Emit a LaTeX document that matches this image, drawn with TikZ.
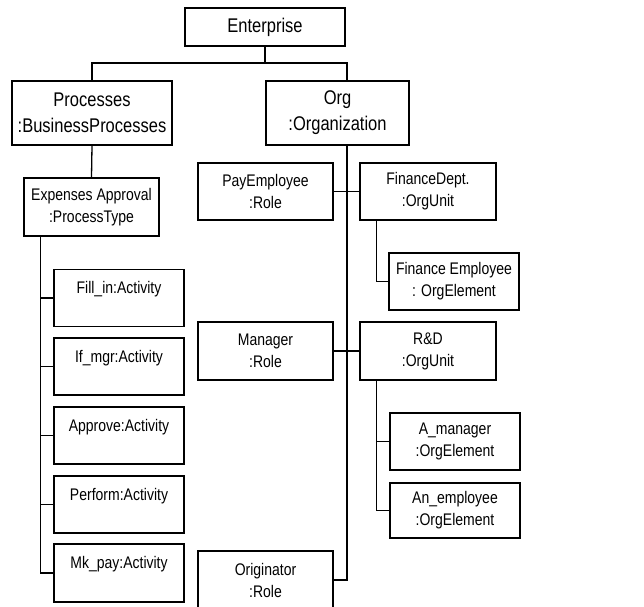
\documentclass[tikz,border=0pt]{standalone}
\usepackage{fontspec}
\usepackage{graphicx}
\setmainfont{Liberation Sans}
% text in the boxes is set slightly taller than wide
\newcommand\tall[1]{\scalebox{1}[1.2]{#1}}
\begin{document}
\begin{tikzpicture}[x=1pt,y=-1pt,
  box/.style={draw, line width=1.3pt, inner sep=0pt, align=center},
  big/.style={box, font=\fontsize{16.5}{26}\selectfont},
  small/.style={box, font=\fontsize{14}{22}\selectfont},
  activity/.style={small, minimum width=130, minimum height=57},
  link/.style={line width=1.3pt}]
\path[use as bounding box, fill=white] (0,0) rectangle (644,606);
\clip (0,0) rectangle (644,606);

% top level
\node[big, minimum width=160, minimum height=38] (ent) at (265,27) {\tall{Enterprise}};
\node[big, minimum width=160, minimum height=64] (proc) at (92,113) {\tall{Processes}\\\tall{:BusinessProcesses}};
\node[big, minimum width=143, minimum height=64] (org) at (337.5,113) {\tall{Org}\\\tall{:Organization}};

% process side
\node[small, minimum width=135, minimum height=58] (exp) at (91.5,207) {\tall{Expenses Approval}\\\tall{:ProcessType}};
\node[activity] (fill) at (119,298) {\tall{Fill\_in:Activity}\\[-8pt]\strut};
\node[activity] (ifm) at (119,366.5) {\tall{If\_mgr:Activity}\\[-8pt]\strut};
\node[activity] (appr) at (119,435.5) {\tall{Approve:Activity}\\[-8pt]\strut};
\node[activity] (perf) at (119,504.5) {\tall{Perform:Activity}\\[-8pt]\strut};
\node[activity, minimum height=58] (mkpay) at (119,573) {\tall{Mk\_pay:Activity}\\[-8pt]\strut};

% organisation side
\node[small, minimum width=135, minimum height=57] (pay) at (265.5,191.5) {\tall{PayEmployee}\\\tall{:Role}};
\node[small, minimum width=136, minimum height=57] (fin) at (428,191.5) {\tall{FinanceDept.}\\\tall{:OrgUnit}};
\node[small, minimum width=130, minimum height=57] (finemp) at (454,281.5) {\tall{Finance Employee}\\\tall{: OrgElement}};
\node[small, minimum width=135, minimum height=58] (mgr) at (265.5,351) {\tall{Manager}\\\tall{:Role}};
\node[small, minimum width=136, minimum height=58] (rd) at (428,351) {\tall{R\&D}\\\tall{:OrgUnit}};
\node[small, minimum width=130, minimum height=57] (aman) at (455,441.5) {\tall{A\_manager}\\\tall{:OrgElement}};
\node[small, minimum width=130, minimum height=55] (anemp) at (455,510.5) {\tall{An\_employee}\\\tall{:OrgElement}};
\node[small, minimum width=135, minimum height=58] (orig) at (265.5,580) {\tall{Originator}\\\tall{:Role}};

% connectors
\coordinate (split) at (347,63);
\draw[link] (ent.south) -- (ent.south |- split);
\draw[link] (proc.north) |- (split) -- (split |- org.north);
\draw[link] (org.south -| split) |- (orig.east);
\draw[link] (pay.east) -- (fin.west);
\draw[link] (mgr.east) -- (rd.west);

\coordinate (finbus) at ([xshift=17pt]fin.south west);
\draw[link] (finbus) |- (finemp.west);
\coordinate (rdbus) at ([xshift=17pt]rd.south west);
\draw[link] (rdbus) |- (anemp.west);
\draw[link] (rdbus |- aman.west) -- (aman.west);

\draw[link] (proc.south) -- (exp.north);
\coordinate (actbus) at ([xshift=17pt]exp.south west);
\draw[link] (actbus) |- (mkpay.west);
\foreach \a in {fill,ifm,appr,perf}
  \draw[link] (actbus |- \a.west) -- (\a.west);
\end{tikzpicture}
\end{document}
